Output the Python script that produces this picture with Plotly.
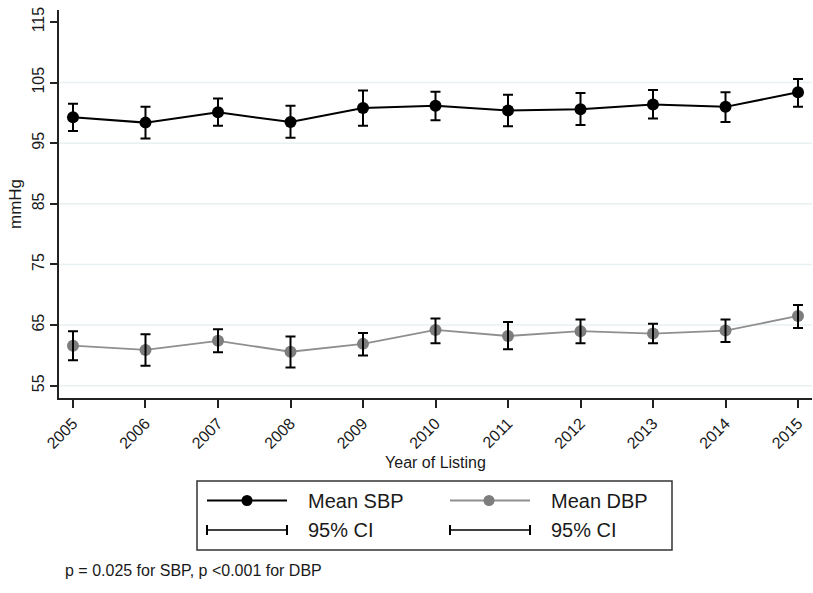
import plotly.graph_objects as go

# ---- data ----
years = [2005, 2006, 2007, 2008, 2009, 2010, 2011, 2012, 2013, 2014, 2015]
sbp_mean = [99.3, 98.4, 100.1, 98.5, 100.8, 101.2, 100.4, 100.6, 101.4, 101.0, 103.4]
sbp_low = [97.0, 95.8, 97.9, 95.9, 97.9, 98.8, 97.8, 98.0, 99.1, 98.5, 101.0]
sbp_high = [101.5, 101.0, 102.4, 101.2, 103.7, 103.5, 103.0, 103.3, 103.8, 103.4, 105.6]

dbp_mean = [61.6, 60.9, 62.4, 60.6, 61.9, 64.2, 63.2, 64.0, 63.6, 64.1, 66.5]
dbp_low = [59.2, 58.3, 60.5, 58.0, 60.0, 62.0, 61.0, 62.0, 62.0, 62.2, 64.5]
dbp_high = [64.0, 63.5, 64.3, 63.1, 63.7, 66.1, 65.5, 65.9, 65.2, 65.9, 68.3]

y_ticks = [55, 65, 75, 85, 95, 105, 115]
x_tick_labels = [str(y) for y in years]

legend_labels = ["Mean SBP", "Mean DBP", "95% CI", "95% CI"]
footnote = "p = 0.025 for SBP, p <0.001 for DBP"

# ---- layout helpers (pixel -> paper) ----
W, H = 813, 593
ML, MR, MT, MB = 59, 1, 10, 195
PW, PH = W - ML - MR, H - MT - MB


def px(x):
    return (x - ML) / PW


def py(y):
    return (H - MB - y) / PH


TXT = "#1a1a1a"
FONT = "Liberation Sans, Arial, Helvetica, sans-serif"
SBP_C = "black"
DBP_MC = "#7d7d7d"
DBP_LC = "#8f8f8f"
GRID_C = "#e8f0f2"

fig = go.Figure()

# SBP
fig.add_trace(go.Scatter(
    x=years, y=sbp_mean, mode="lines+markers",
    line=dict(color=SBP_C, width=2),
    marker=dict(color=SBP_C, size=12),
    error_y=dict(type="data", symmetric=False,
                 array=[h - m for h, m in zip(sbp_high, sbp_mean)],
                 arrayminus=[m - l for m, l in zip(sbp_mean, sbp_low)],
                 color="black", thickness=2, width=5),
    showlegend=False, hoverinfo="skip"))

# DBP
fig.add_trace(go.Scatter(
    x=years, y=dbp_mean, mode="lines+markers",
    line=dict(color=DBP_LC, width=1.8),
    marker=dict(color=DBP_MC, size=12),
    showlegend=False, hoverinfo="skip"))
fig.add_trace(go.Scatter(
    x=years, y=dbp_mean, mode="markers",
    marker=dict(color="rgba(0,0,0,0)", size=1),
    error_y=dict(type="data", symmetric=False,
                 array=[h - m for h, m in zip(dbp_high, dbp_mean)],
                 arrayminus=[m - l for m, l in zip(dbp_mean, dbp_low)],
                 color="black", thickness=2, width=5),
    showlegend=False, hoverinfo="skip"))

shapes = []
# gridlines (interior ticks only, like Stata)
for v in y_ticks[:-1]:
    shapes.append(dict(type="line", xref="paper", yref="y", x0=0, x1=1, y0=v, y1=v,
                       line=dict(color=GRID_C, width=1.5), layer="below"))

# legend box
shapes.append(dict(type="rect", xref="paper", yref="paper",
                   x0=px(197), x1=px(672), y0=py(481), y1=py(550),
                   line=dict(color="#333333", width=1.5), fillcolor="white"))
r1, r2 = 500.5, 530
# SBP sample
shapes.append(dict(type="line", xref="paper", yref="paper", x0=px(207), x1=px(287),
                   y0=py(r1), y1=py(r1), line=dict(color=SBP_C, width=2)))
shapes.append(dict(type="circle", xref="paper", yref="paper", xsizemode="pixel", ysizemode="pixel",
                   xanchor=px(247), yanchor=py(r1), x0=-5.5, x1=5.5, y0=-5.5, y1=5.5,
                   fillcolor=SBP_C, line=dict(color=SBP_C, width=0)))
# DBP sample
shapes.append(dict(type="line", xref="paper", yref="paper", x0=px(450), x1=px(530),
                   y0=py(r1), y1=py(r1), line=dict(color=DBP_LC, width=2)))
shapes.append(dict(type="circle", xref="paper", yref="paper", xsizemode="pixel", ysizemode="pixel",
                   xanchor=px(489), yanchor=py(r1), x0=-5.5, x1=5.5, y0=-5.5, y1=5.5,
                   fillcolor=DBP_MC, line=dict(color=DBP_MC, width=0)))
# CI samples
for xa, xb in [(207, 287), (450, 530)]:
    shapes.append(dict(type="line", xref="paper", yref="paper", x0=px(xa), x1=px(xb),
                       y0=py(r2), y1=py(r2), line=dict(color="black", width=1.5)))
    for xc in (xa, xb):
        shapes.append(dict(type="line", xref="paper", yref="paper", x0=px(xc), x1=px(xc),
                           y0=py(r2 - 5), y1=py(r2 + 5), line=dict(color="black", width=2)))

annotations = []
for label, xx, yy in zip(legend_labels, [306, 549, 306, 549], [r1, r1, r2, r2]):
    annotations.append(dict(text=label, xref="paper", yref="paper", x=px(xx), y=py(yy),
                            xanchor="left", yanchor="middle", showarrow=False,
                            font=dict(size=20, color=TXT, family=FONT)))
annotations.append(dict(text=footnote, xref="paper", yref="paper", x=px(63), y=py(570),
                        xanchor="left", yanchor="middle", showarrow=False,
                        font=dict(size=16, color=TXT, family=FONT)))

fig.update_layout(
    width=W, height=H,
    margin=dict(l=ML, r=MR, t=MT, b=MB),
    paper_bgcolor="white", plot_bgcolor="white",
    font=dict(family=FONT, color=TXT),
    shapes=shapes, annotations=annotations,
    xaxis=dict(range=[2004.807, 2015.193], tickvals=years, ticktext=x_tick_labels,
               tickangle=-45, ticks="outside", ticklen=8, tickwidth=1.5, tickcolor="#222",
               showline=True, linecolor="#222", linewidth=1.5, showgrid=False, zeroline=False,
               tickfont=dict(size=16, color=TXT),
               title=dict(text="Year of Listing", font=dict(size=16, color=TXT), standoff=6)),
    yaxis=dict(range=[52.97, 116.98], tickvals=y_ticks,
               tickangle=-90, ticks="outside", ticklen=7, tickwidth=1.5, tickcolor="#222",
               showline=True, linecolor="#222", linewidth=1.5, showgrid=False, zeroline=False,
               tickfont=dict(size=16, color=TXT),
               title=dict(text="mmHg", font=dict(size=17, color=TXT), standoff=4)),
)

fig.write_html("out.html")
